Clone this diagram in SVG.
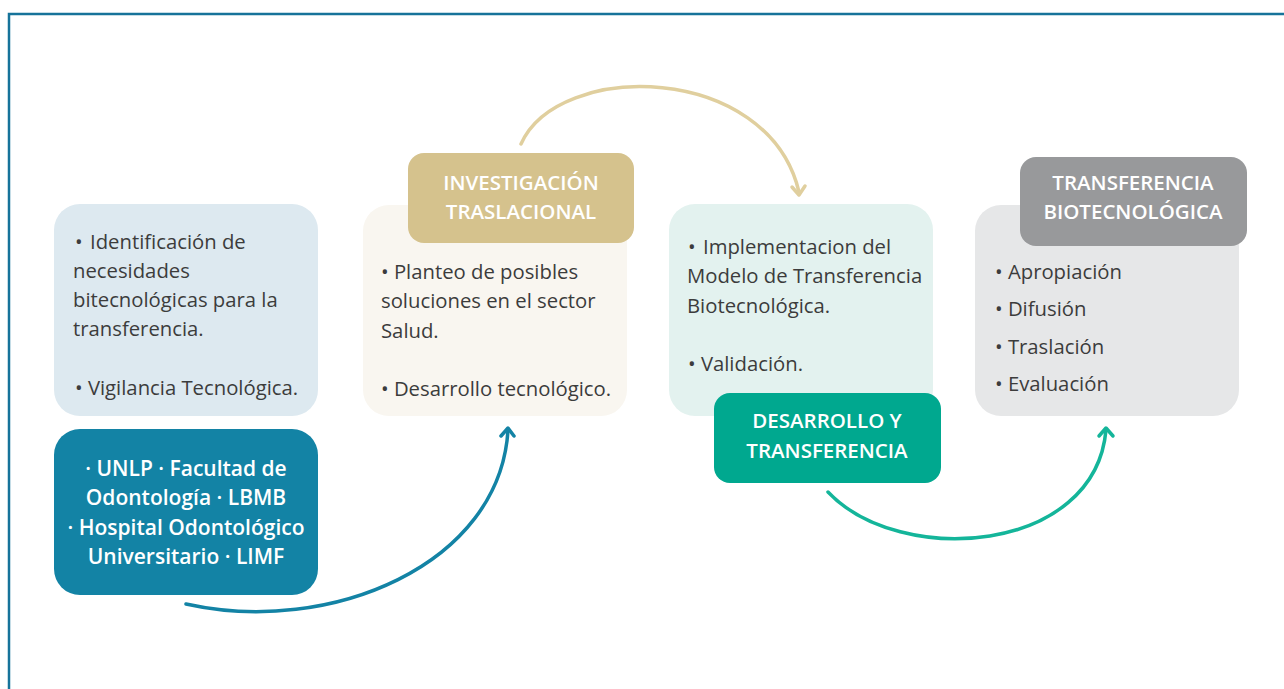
<svg xmlns="http://www.w3.org/2000/svg" width="1284" height="689" viewBox="0 0 1284 689">
<defs>
<style>
.body{font-family:"Open Sans","Liberation Sans",sans-serif;font-size:20.3px;fill:#3c3c3c;}
.head{font-family:"Open Sans","Liberation Sans",sans-serif;font-size:20.5px;font-weight:600;fill:#ffffff;text-anchor:middle;}
.conn{fill:none;stroke-width:3.5;stroke-linecap:round;}
.tip{fill:none;stroke-width:3.5;stroke-linecap:round;stroke-linejoin:round;}
</style>
</defs>
<rect width="1284" height="689" fill="#ffffff"/>
<path d="M9,689 V14 H1284" fill="none" stroke="#16739a" stroke-width="2.5"/>

<g id="connectors">
<path class="conn" stroke="#1383a5" d="M186,604 C330,636 500,565 508,430"/>
<path class="tip" stroke="#1383a5" d="M501,436 L508,428 L514,436"/>
<path class="conn" stroke="#e0cf9e" d="M521,144 C558,60 768,62 799,192"/>
<path class="tip" stroke="#e0cf9e" d="M792,187 L799,195 L805,186"/>
<path class="conn" stroke="#14b59a" d="M828,492 C900,568 1095,554 1106,430"/>
<path class="tip" stroke="#14b59a" d="M1099,436 L1106,428 L1113,436"/>
</g>

<g id="node-identificacion">
<rect x="54" y="204" width="264" height="212" rx="26" fill="#dde9f0"/>
<text class="body" x="75" y="249">•<tspan x="90">Identificación de</tspan></text>
<text class="body" x="73" y="278">necesidades</text>
<text class="body" x="73" y="307">bitecnológicas para la</text>
<text class="body" x="73" y="336">transferencia.</text>
<text class="body" x="75" y="395">• Vigilancia Tecnológica.</text>
</g>

<g id="node-planteo">
<rect x="363" y="205" width="264" height="211" rx="26" fill="#f9f6f0"/>
<text class="body" x="381" y="279">• Planteo de posibles</text>
<text class="body" x="381" y="308">soluciones en el sector</text>
<text class="body" x="381" y="338">Salud.</text>
<text class="body" x="381" y="396">• Desarrollo tecnológico.</text>
</g>

<g id="node-investigacion">
<rect x="408" y="153" width="226" height="90" rx="16" fill="#d5c28d"/>
<text class="head" x="521" y="190">INVESTIGACIÓN</text>
<text class="head" x="521" y="219">TRASLACIONAL</text>
</g>

<g id="node-implementacion">
<rect x="669" y="204" width="264" height="212" rx="26" fill="#e3f2ef"/>
<text class="body" x="688" y="254">•<tspan x="703">Implementacion del</tspan></text>
<text class="body" x="687" y="283">Modelo de Transferencia</text>
<text class="body" x="687" y="313">Biotecnológica.</text>
<text class="body" x="688" y="371">• Validación.</text>
</g>

<g id="node-desarrollo">
<rect x="714" y="393" width="227" height="90" rx="16" fill="#00a88f"/>
<text class="head" x="827" y="428">DESARROLLO Y</text>
<text class="head" x="827" y="458">TRANSFERENCIA</text>
</g>

<g id="node-apropiacion">
<rect x="975" y="205" width="264" height="211" rx="26" fill="#e6e7e8"/>
<text class="body" x="995" y="279">• Apropiación</text>
<text class="body" x="995" y="316">• Difusión</text>
<text class="body" x="995" y="354">• Traslación</text>
<text class="body" x="995" y="391">• Evaluación</text>
</g>

<g id="node-transferencia">
<rect x="1020" y="157" width="227" height="89" rx="16" fill="#98999b"/>
<text class="head" x="1133" y="190">TRANSFERENCIA</text>
<text class="head" x="1133" y="219">BIOTECNOLÓGICA</text>
</g>

<g id="node-unlp">
<rect x="54" y="429" width="264" height="166" rx="26" fill="#1383a5"/>
<text class="head" x="186" y="476" style="font-size:21px">· UNLP · Facultad de</text>
<text class="head" x="186" y="505" style="font-size:21px">Odontología · LBMB</text>
<text class="head" x="186" y="535" style="font-size:21px">· Hospital Odontológico</text>
<text class="head" x="186" y="564" style="font-size:21px">Universitario · LIMF</text>
</g>
</svg>
